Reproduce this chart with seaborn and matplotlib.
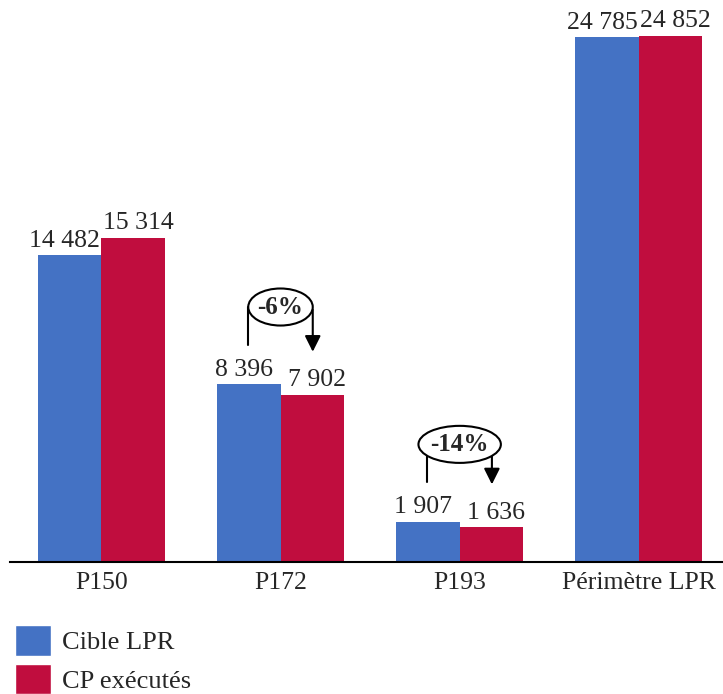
import numpy as np
import pandas as pd
import matplotlib.pyplot as plt
import seaborn as sns
from matplotlib.patches import Ellipse, Patch

programmes = ["P150", "P172", "P193", "Périmètre LPR"]
cible = [14482, 8396, 1907, 24785]
cp_exec = [15314, 7902, 1636, 24852]
series = ["Cible LPR", "CP exécutés"]
colors = ["#4472C4", "#C00D3E"]

# groups that get the "-x%" bubble
annot_groups = [1, 2]
bubble_width = [0.36, 0.46]

data = pd.DataFrame({
    "prog": programmes * 2,
    "serie": [series[0]] * 4 + [series[1]] * 4,
    "value": cible + cp_exec,
})

sns.set_style("white")
plt.rcParams["font.family"] = ["Liberation Serif", "DejaVu Serif"]

fig = plt.figure(figsize=(7.23, 6.94), dpi=100)
ax = fig.add_axes([10 / 723, 1 - 562 / 694, 713 / 723, 562 / 694])

sns.barplot(data=data, x="prog", y="value", hue="serie", palette=colors,
            width=0.71, saturation=1, linewidth=0, ax=ax, legend=False)

# value labels, pushed slightly apart like in the original
for cont, dx in zip(ax.containers, [-3.5, 3.5]):
    for bar, v in zip(cont, cont.datavalues):
        ax.annotate(f"{int(v):,}".replace(",", " "),
                    (bar.get_x() + bar.get_width() / 2, bar.get_height()),
                    xytext=(dx, 2.5), textcoords="offset points",
                    ha="center", va="bottom", fontsize=18.5)

ax.set_xlim(-0.51, 3.47)
ax.set_ylim(0, 26550)
ax.set_xlabel("")
ax.set_ylabel("")
ax.set_yticks([])
ax.tick_params(axis="x", length=0, labelsize=18.5, pad=7)
for s in ["top", "left", "right"]:
    ax.spines[s].set_visible(False)
ax.spines["bottom"].set_color("black")
ax.spines["bottom"].set_linewidth(1.5)

for g, w in zip(annot_groups, bubble_width):
    a, b = cible[g], cp_exec[g]
    pct = round((b - a) / a * 100)
    yc = a + 3650
    xl, xr = g - 0.18, g + 0.18
    ax.plot([xl, xl], [yc, a + 1860], color="black", lw=1.5, zorder=3)
    ax.annotate("", xy=(xr, b + 1900), xytext=(xr, yc),
                arrowprops=dict(arrowstyle="-|>", color="black", lw=1.5,
                                mutation_scale=24), zorder=3)
    ax.add_patch(Ellipse((g, yc), w, 1750, facecolor="white",
                         edgecolor="black", lw=1.5, zorder=4))
    ax.text(g, yc, f"{pct}%", ha="center", va="center", fontsize=18,
            fontweight="bold", zorder=5)

handles = [Patch(facecolor=c) for c in colors]
fig.legend(handles, series, loc="lower left", bbox_to_anchor=(15 / 723, 0),
           frameon=False, fontsize=19, borderpad=0, borderaxespad=0,
           handlelength=1.35, handleheight=1.4, handletextpad=0.45,
           labelspacing=0.3)

fig.savefig("out.png", dpi=100)
